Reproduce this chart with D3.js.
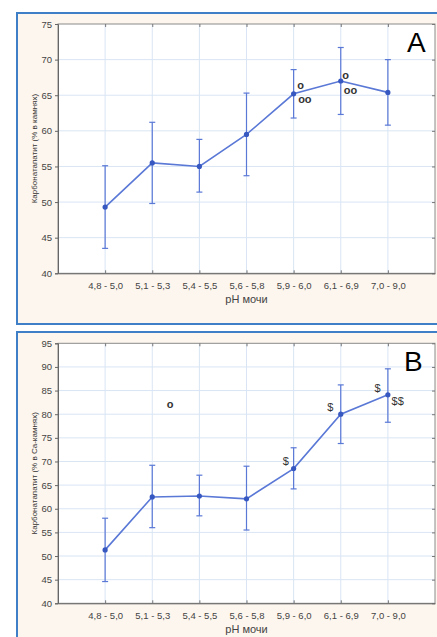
<!DOCTYPE html>
<html><head><meta charset="utf-8">
<script src="https://cdn.jsdelivr.net/npm/d3@7/dist/d3.min.js"></script>
<style>
html,body{margin:0;padding:0;background:#fff;}
svg{display:block;}
</style></head>
<body>
<script>
const categories = ["4,8 - 5,0","5,1 - 5,3","5,4 - 5,5","5,6 - 5,8","5,9 - 6,0","6,1 - 6,9","7,0 - 9,0"];
const meanA = [49.3, 55.5, 55.0, 59.5, 65.2, 67.0, 65.4];
const lowA  = [43.5, 49.8, 51.4, 53.7, 61.8, 62.3, 60.8];
const highA = [55.1, 61.2, 58.8, 65.3, 68.6, 71.7, 70.0];
const meanB = [51.3, 62.5, 62.7, 62.1, 68.5, 80.0, 84.1];
const lowB  = [44.6, 56.0, 58.5, 55.5, 64.2, 73.8, 78.3];
const highB = [58.0, 69.2, 67.1, 69.0, 72.9, 86.2, 89.6];
const yTicksA = [40,45,50,55,60,65,70,75];
const yTicksB = [40,45,50,55,60,65,70,75,80,85,90,95];
const xTitle = "pH мочи";
const yTitleA = "Карбонатапатит (% в камнях)";
const yTitleB = "Карбонатапатит (% в Ca-камнях)";
const annotA = [
  {text:"o",  cat:4, val:66.4, dx:3.5,  bold:true},
  {text:"oo", cat:4, val:64.5, dx:4.5,  bold:true},
  {text:"o",  cat:5, val:67.85,dx:1.5,  bold:true},
  {text:"oo", cat:5, val:65.7, dx:3,    bold:true}
];
const annotB = [
  {text:"o",  cat:1, val:82.15, dx:14.5, bold:true},
  {text:"$",  cat:4, val:70.2,  dx:-11,  bold:false},
  {text:"$",  cat:5, val:81.5,  dx:-13.5,bold:false},
  {text:"$",  cat:6, val:85.5,  dx:-13.3,bold:false},
  {text:"$$", cat:6, val:82.8,  dx:3.7,  bold:false}
];

const W = 437, H = 637;
const svg = d3.select("body").append("svg").attr("width", W).attr("height", H);

const lineColor = "#5a78d6";
const dotColor = "#3758c0";
const gridColor = "#d9e5f4";
const frameColor = "#8a8a8a";
const tickFont = "'Liberation Sans Narrow','Arial Narrow','Liberation Sans',Arial,sans-serif";
const font = "'Liberation Sans',Arial,sans-serif";

function panel(opt) {
  svg.append("rect")
    .attr("x", 17).attr("y", opt.boxTop)
    .attr("width", W + 10).attr("height", opt.boxH)
    .attr("fill", "#fdf6ee").attr("stroke", "#3f7fc8").attr("stroke-width", 2);

  const left = 58, right = 435, top = opt.top, bottom = opt.bottom;
  const x = d3.scalePoint().domain(categories).range([left, right]).padding(1);
  const y = d3.scaleLinear().domain([opt.yTicks[0], opt.yTicks[opt.yTicks.length-1]]).range([bottom, top]);

  const g = svg.append("g");
  g.append("rect").attr("x", left).attr("y", top).attr("width", right-left).attr("height", bottom-top).attr("fill", "#fff");

  g.append("g").selectAll("line.h").data(opt.yTicks.slice(1, -1)).join("line")
    .attr("x1", left).attr("x2", right).attr("y1", d => y(d)).attr("y2", d => y(d))
    .attr("stroke", gridColor).attr("stroke-width", 1);
  g.append("g").selectAll("line.v").data(categories).join("line")
    .attr("x1", d => x(d)).attr("x2", d => x(d)).attr("y1", top).attr("y2", bottom)
    .attr("stroke", gridColor).attr("stroke-width", 1);

  g.append("rect").attr("x", left).attr("y", top).attr("width", right-left).attr("height", bottom-top)
    .attr("fill", "none").attr("stroke", frameColor).attr("stroke-width", 1);

  const ya = d3.axisLeft(y).tickValues(opt.yTicks).tickSize(3).tickPadding(3);
  const yg = g.append("g").attr("transform", `translate(${left},0)`).call(ya);
  yg.select(".domain").attr("stroke", "#666");
  yg.selectAll(".tick line").attr("stroke", "#666");
  yg.selectAll("text").attr("font-family", tickFont).attr("font-size", 9.5).attr("fill", "#444");

  const yr = d3.axisLeft(y).tickValues(opt.yTicks).tickSize(3).tickFormat("");
  const yrg = g.append("g").attr("transform", `translate(${right},0)`).call(yr);
  yrg.select(".domain").remove();
  yrg.selectAll(".tick line").attr("stroke", "#777");

  const xa = d3.axisBottom(x).tickSize(0).tickPadding(9);
  const xg = g.append("g").attr("transform", `translate(0,${bottom})`).call(xa);
  xg.select(".domain").attr("stroke", "#666");
  xg.selectAll("text").attr("font-family", tickFont).attr("font-size", 9.5).attr("fill", "#444");
  const xb = d3.axisTop(x).tickSize(3).tickFormat("");
  const xbg = g.append("g").attr("transform", `translate(0,${bottom})`).call(xb);
  xbg.select(".domain").remove();
  xbg.selectAll(".tick line").attr("stroke", "#777");
  const xt = d3.axisBottom(x).tickSize(3).tickFormat("");
  const xtg = g.append("g").attr("transform", `translate(0,${top})`).call(xt);
  xtg.select(".domain").remove();
  xtg.selectAll(".tick line").attr("stroke", "#777");

  g.append("text").attr("x", (left+right)/2).attr("y", bottom + 30)
    .attr("text-anchor", "middle").attr("font-family", font).attr("font-size", 11).attr("fill", "#444")
    .text(xTitle);
  g.append("text").attr("transform", `translate(34,${(top+bottom)/2}) rotate(-90)`)
    .attr("text-anchor", "middle").attr("dominant-baseline", "central")
    .attr("font-family", font).attr("font-size", 8).attr("fill", "#333")
    .text(opt.yTitle);

  const data = categories.map((c, i) => ({c, m: opt.mean[i], lo: opt.low[i], hi: opt.high[i]}));
  const eb = g.append("g").attr("stroke", lineColor).attr("stroke-width", 1.2);
  eb.selectAll("line.v").data(data).join("line")
    .attr("x1", d => x(d.c)).attr("x2", d => x(d.c)).attr("y1", d => y(d.lo)).attr("y2", d => y(d.hi));
  eb.selectAll("line.t").data(data).join("line")
    .attr("x1", d => x(d.c)-3).attr("x2", d => x(d.c)+3).attr("y1", d => y(d.hi)).attr("y2", d => y(d.hi));
  eb.selectAll("line.b").data(data).join("line")
    .attr("x1", d => x(d.c)-3).attr("x2", d => x(d.c)+3).attr("y1", d => y(d.lo)).attr("y2", d => y(d.lo));

  g.append("path").datum(data)
    .attr("d", d3.line().x(d => x(d.c)).y(d => y(d.m)))
    .attr("fill", "none").attr("stroke", lineColor).attr("stroke-width", 1.6);
  g.append("g").selectAll("circle").data(data).join("circle")
    .attr("cx", d => x(d.c)).attr("cy", d => y(d.m)).attr("r", 2.6)
    .attr("fill", dotColor);

  g.append("g").selectAll("text").data(opt.annot).join("text")
    .attr("x", d => x(categories[d.cat]) + d.dx).attr("y", d => y(d.val))
    .attr("dominant-baseline", "central")
    .attr("font-family", font).attr("font-size", 11)
    .attr("font-weight", d => d.bold ? "bold" : "normal")
    .attr("fill", "#333")
    .text(d => d.text);

  g.append("text").attr("x", opt.letterX).attr("y", opt.letterY)
    .attr("font-family", font).attr("font-size", 28).attr("fill", "#000")
    .text(opt.letter);
}

panel({boxTop: 13, boxH: 311, top: 24, bottom: 273.3, yTicks: yTicksA,
  mean: meanA, low: lowA, high: highA, yTitle: yTitleA, annot: annotA,
  letter: "A", letterX: 407, letterY: 52});
panel({boxTop: 332, boxH: 320, top: 343.3, bottom: 603.3, yTicks: yTicksB,
  mean: meanB, low: lowB, high: highB, yTitle: yTitleB, annot: annotB,
  letter: "B", letterX: 404, letterY: 371});
</script>
</body></html>
